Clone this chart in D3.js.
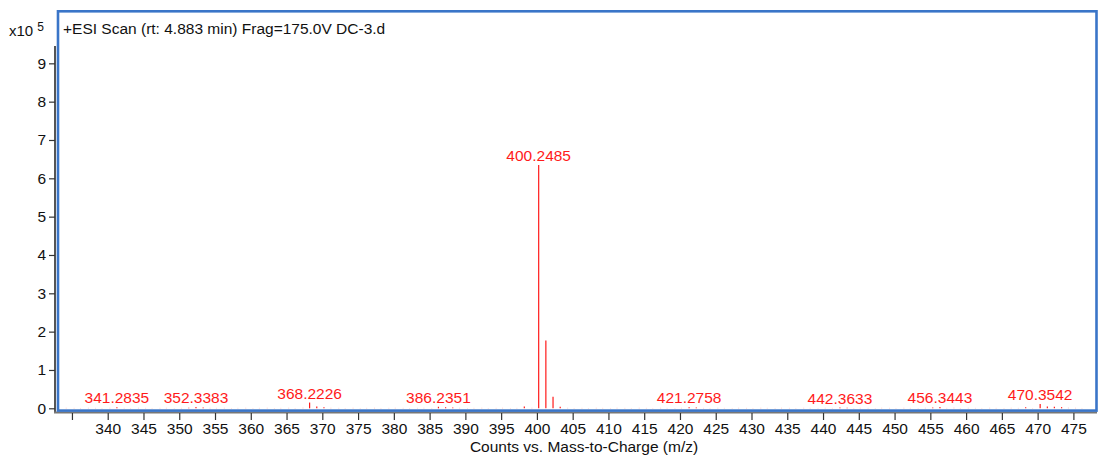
<!DOCTYPE html>
<html>
<head>
<meta charset="utf-8">
<script src="https://cdn.jsdelivr.net/npm/d3@7"></script>
<style>
  html, body { margin: 0; padding: 0; background: #fff; }
  svg { display: block; font-family: "Liberation Sans", Arial, sans-serif; }
</style>
</head>
<body>
<svg id="chart" width="1099" height="457"></svg>
<script>
// Spectrum header
const scanTitle = "+ESI Scan (rt: 4.883 min) Frag=175.0V DC-3.d";
const xTitle = "Counts vs. Mass-to-Charge (m/z)";

// Annotated peaks: m/z and counts (x10^5)
const labeledMz = [341.2835, 352.3383, 368.2226, 386.2351, 400.2485, 421.2758, 442.3633, 456.3443, 470.3542];
const labeledCounts = [0.025, 0.035, 0.15, 0.04, 6.35, 0.025, 0.02, 0.035, 0.11];

// Other peaks (isotopes and minor ions)
const minorMz = [401.2518, 402.2550, 369.2260, 370.2290, 403.2580, 398.2400, 471.3570, 472.3400, 473.3500,
                 387.2380, 353.3410, 388.2400, 455.3400, 468.3300, 443.3700, 422.2800, 351.3300];
const minorCounts = [1.77, 0.30, 0.05, 0.025, 0.04, 0.045, 0.05, 0.04, 0.03,
                     0.025, 0.02, 0.02, 0.02, 0.025, 0.015, 0.02, 0.015];

// Background noise ions
const noiseMz = [334.2, 335.3, 336.2, 337.3, 338.3, 339.2, 340.3, 342.3, 343.2, 344.3, 345.3, 346.2, 347.3,
                 348.2, 349.3, 350.3, 354.3, 355.2, 356.3, 357.3, 358.2, 359.3, 360.3, 361.2, 362.3, 363.3,
                 364.2, 365.3, 366.2, 367.3, 371.2, 372.3, 373.2, 374.3, 375.3, 376.2, 377.3, 378.2, 379.3,
                 380.2, 381.3, 382.2, 383.3, 384.2, 385.3, 389.2, 390.3, 391.2, 392.3, 393.2, 394.3, 395.2,
                 396.3, 397.2, 399.3, 404.3, 405.2, 406.3, 407.2, 408.3, 409.2, 410.3, 411.2, 412.3, 413.2,
                 414.3, 415.3, 416.2, 417.3, 418.2, 419.3, 420.2, 423.3, 424.2, 425.3, 426.2, 427.3, 428.2,
                 429.3, 430.2, 431.3, 432.2, 433.3, 434.2, 435.3, 436.2, 437.3, 438.2, 439.3, 440.3, 441.3,
                 444.3, 445.2, 446.3, 447.3, 448.2, 449.3, 450.2, 451.3, 452.2, 453.3, 454.3, 457.3, 458.3,
                 459.2, 460.3, 461.3, 462.2, 463.3, 464.2, 465.3, 466.3, 467.3, 469.3, 474.3, 475.3, 476.2];
const noiseCounts = [0.012, 0.01, 0.008, 0.012, 0.01, 0.008, 0.012, 0.01, 0.008, 0.012, 0.01, 0.008, 0.01,
                     0.012, 0.008, 0.01, 0.012, 0.01, 0.012, 0.008, 0.01, 0.012, 0.008, 0.01, 0.012, 0.008,
                     0.01, 0.012, 0.008, 0.015, 0.012, 0.01, 0.008, 0.012, 0.008, 0.01, 0.012, 0.008, 0.01,
                     0.012, 0.01, 0.008, 0.01, 0.012, 0.008, 0.012, 0.008, 0.01, 0.012, 0.008, 0.01, 0.012,
                     0.008, 0.01, 0.012, 0.012, 0.008, 0.01, 0.008, 0.012, 0.01, 0.008, 0.012, 0.01, 0.008,
                     0.012, 0.01, 0.008, 0.012, 0.01, 0.008, 0.012, 0.01, 0.008, 0.012, 0.01, 0.008, 0.012,
                     0.01, 0.008, 0.012, 0.01, 0.008, 0.012, 0.01, 0.008, 0.012, 0.01, 0.008, 0.012, 0.01,
                     0.008, 0.012, 0.01, 0.008, 0.012, 0.01, 0.008, 0.012, 0.01, 0.008, 0.012, 0.01, 0.015,
                     0.008, 0.012, 0.01, 0.008, 0.012, 0.01, 0.008, 0.012, 0.01, 0.008, 0.015, 0.012, 0.008];

// Axis ticks
const xTicks = [335, 340, 345, 350, 355, 360, 365, 370, 375, 380, 385, 390, 395, 400, 405, 410, 415, 420,
                425, 430, 435, 440, 445, 450, 455, 460, 465, 470, 475];
const xTickLabels = ["", "340", "345", "350", "355", "360", "365", "370", "375", "380", "385", "390", "395",
                     "400", "405", "410", "415", "420", "425", "430", "435", "440", "445", "450", "455", "460",
                     "465", "470", "475"];
const yTicks = [0, 1, 2, 3, 4, 5, 6, 7, 8, 9];

const svg = d3.select("#chart");

const x = d3.scaleLinear().domain([333.05, 478.3]).range([58, 1097]);
const y = d3.scaleLinear().domain([0, 10]).range([408.3, 25]);

const red = "#ff1a1a";
const fontSize = "15.5px";

// Axis lines (gray) behind the frame
svg.append("line")
  .attr("x1", 55).attr("x2", 55)
  .attr("y1", y(9.45)).attr("y2", 413)
  .attr("stroke", "#555").attr("stroke-width", 2);
svg.append("line")
  .attr("x1", 54).attr("x2", 1097)
  .attr("y1", 412.5).attr("y2", 412.5)
  .attr("stroke", "#777").attr("stroke-width", 2);

// X axis
const xAxis = d3.axisBottom(x)
  .tickValues(xTicks)
  .tickFormat((d, i) => xTickLabels[i])
  .tickSizeOuter(0)
  .tickSize(7)
  .tickPadding(3);
const gx = svg.append("g").attr("transform", "translate(0,413)").call(xAxis);
gx.select(".domain").remove();
gx.selectAll(".tick line").attr("stroke", "#333").attr("stroke-width", 1.2);
gx.selectAll(".tick text").attr("fill", "#111").style("font-size", fontSize)
  .style("font-family", "'Liberation Sans', Arial, sans-serif");

// Y axis
const yAxis = d3.axisLeft(y)
  .tickValues(yTicks)
  .tickFormat(d3.format("d"))
  .tickSizeOuter(0)
  .tickSize(6)
  .tickPadding(3);
const gy = svg.append("g").attr("transform", "translate(55,0)").call(yAxis);
gy.select(".domain").remove();
gy.selectAll(".tick line").attr("stroke", "#333").attr("stroke-width", 1.2);
gy.selectAll(".tick text").attr("fill", "#111").style("font-size", fontSize)
  .style("font-family", "'Liberation Sans', Arial, sans-serif");

// Exponent label
const expo = svg.append("text").attr("x", 9).attr("y", 36)
  .attr("fill", "#111").style("font-size", "15px");
expo.append("tspan").text("x10");
expo.append("tspan").attr("dx", 4).attr("dy", -5).style("font-size", "12px").text("5");

// Frame
svg.append("rect")
  .attr("x", 58).attr("y", 11.3)
  .attr("width", 1096.5 - 58).attr("height", 410.6 - 11.3)
  .attr("fill", "none").attr("stroke", "#3a75c8").attr("stroke-width", 2.6);

// Title inside frame
svg.append("text").attr("x", 63).attr("y", 34)
  .attr("fill", "#111").style("font-size", fontSize).text(scanTitle);

// Peaks
const peaks = svg.append("g");
function sticks(mz, counts, color, width) {
  peaks.selectAll(null)
    .data(mz.map((m, i) => ({ m, c: counts[i] })))
    .join("line")
    .attr("x1", d => x(d.m)).attr("x2", d => x(d.m))
    .attr("y1", y(0)).attr("y2", d => y(d.c))
    .attr("stroke", color).attr("stroke-width", width);
}
sticks(noiseMz, noiseCounts, "#ff9a9a", 1);
sticks(minorMz, minorCounts, red, 1.2);
sticks(labeledMz, labeledCounts, red, 1.2);

// Peak annotations
svg.append("g").selectAll("text")
  .data(labeledMz.map((m, i) => ({ m, c: labeledCounts[i] })))
  .join("text")
  .attr("x", d => x(d.m))
  .attr("y", d => y(d.c) - 4)
  .attr("text-anchor", "middle")
  .attr("fill", red)
  .style("font-size", fontSize)
  .text(d => d.m.toFixed(4));

// X axis title
svg.append("text").attr("x", 584).attr("y", 452)
  .attr("text-anchor", "middle").attr("fill", "#111")
  .style("font-size", fontSize).text(xTitle);
</script>
</body>
</html>
